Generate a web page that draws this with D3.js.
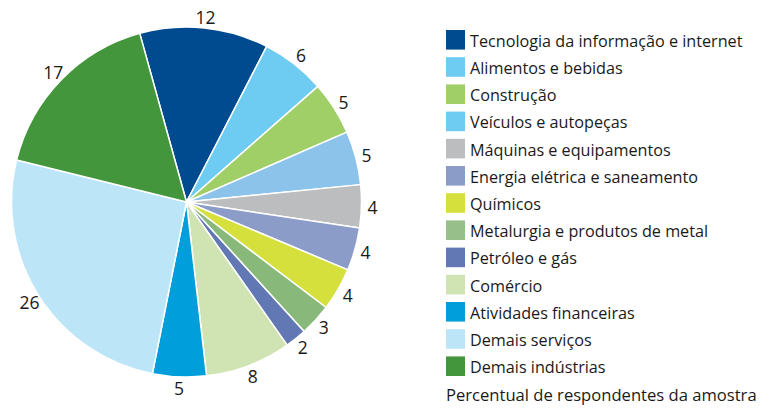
<!DOCTYPE html>
<html><head><meta charset="utf-8">
<script src="https://cdn.jsdelivr.net/npm/d3@7"></script>
<style>
html,body{margin:0;padding:0;background:#fff;}
svg text{font-family:"Open Sans","Noto Sans",sans-serif;fill:#1a1a1a;}
</style></head>
<body>
<svg id="chart" width="768" height="410"></svg>
<script>
const categories = ["Tecnologia da informação e internet","Alimentos e bebidas","Construção","Veículos e autopeças","Máquinas e equipamentos","Energia elétrica e saneamento","Químicos","Metalurgia e produtos de metal","Petróleo e gás","Comércio","Atividades financeiras","Demais serviços","Demais indústrias"];
const values = [12,6,5,5,4,4,4,3,2,8,5,26,17];
const sliceColors = ["#004a8f","#6ecbf2","#a0cf68","#8bc3ea","#bcbdbf","#8c9cc8","#d6e03c","#88b87a","#6178b4","#cfe4b2","#009fdc","#bde5f8","#43963c"];
const legendColors = ["#004a8f","#6ecbf2","#a0cf68","#6ecbf2","#bcbdbf","#8c9cc8","#d6e03c","#97bf8a","#6178b4","#cfe4b2","#009fdc","#bde5f8","#43963c"];
const note = "Percentual de respondentes da amostra";

const svg = d3.select("#chart");
const cx = 186.5, cy = 202, R = 175;
const start = -15.5 * Math.PI / 180;
const pie = d3.pie().sort(null).value(d => d).startAngle(start).endAngle(start + 2 * Math.PI);
const arcs = pie(values);
const arc = d3.arc().innerRadius(0).outerRadius(R);
const labelArc = d3.arc().innerRadius(186).outerRadius(186);

const g = svg.append("g").attr("transform", `translate(${cx},${cy})`);
g.selectAll("path").data(arcs).join("path")
  .attr("d", arc)
  .attr("fill", (d, i) => sliceColors[i])
  .attr("stroke", "#fff").attr("stroke-width", 1.5).attr("stroke-linejoin", "round");

g.selectAll("text.lbl").data(arcs).join("text").attr("class", "lbl")
  .attr("transform", d => `translate(${labelArc.centroid(d)})`)
  .attr("text-anchor", "middle").attr("dominant-baseline", "central")
  .style("font-size", "17.5px")
  .text(d => d.data);

const y = d3.scaleBand().domain(categories).range([30, 376]).paddingInner(0.28).paddingOuter(0);
const lg = svg.append("g");
lg.selectAll("rect").data(categories).join("rect")
  .attr("x", 446).attr("y", d => y(d)).attr("width", 19).attr("height", y.bandwidth())
  .attr("fill", (d, i) => legendColors[i]);
lg.selectAll("text").data(categories).join("text")
  .attr("x", 470).attr("y", d => y(d) + y.bandwidth() / 2 + 1)
  .attr("dominant-baseline", "central")
  .style("font-size", "16.2px")
  .text(d => d);

svg.append("text").attr("x", 446).attr("y", 401).style("font-size", "16.6px").text(note);
</script>
</body></html>
